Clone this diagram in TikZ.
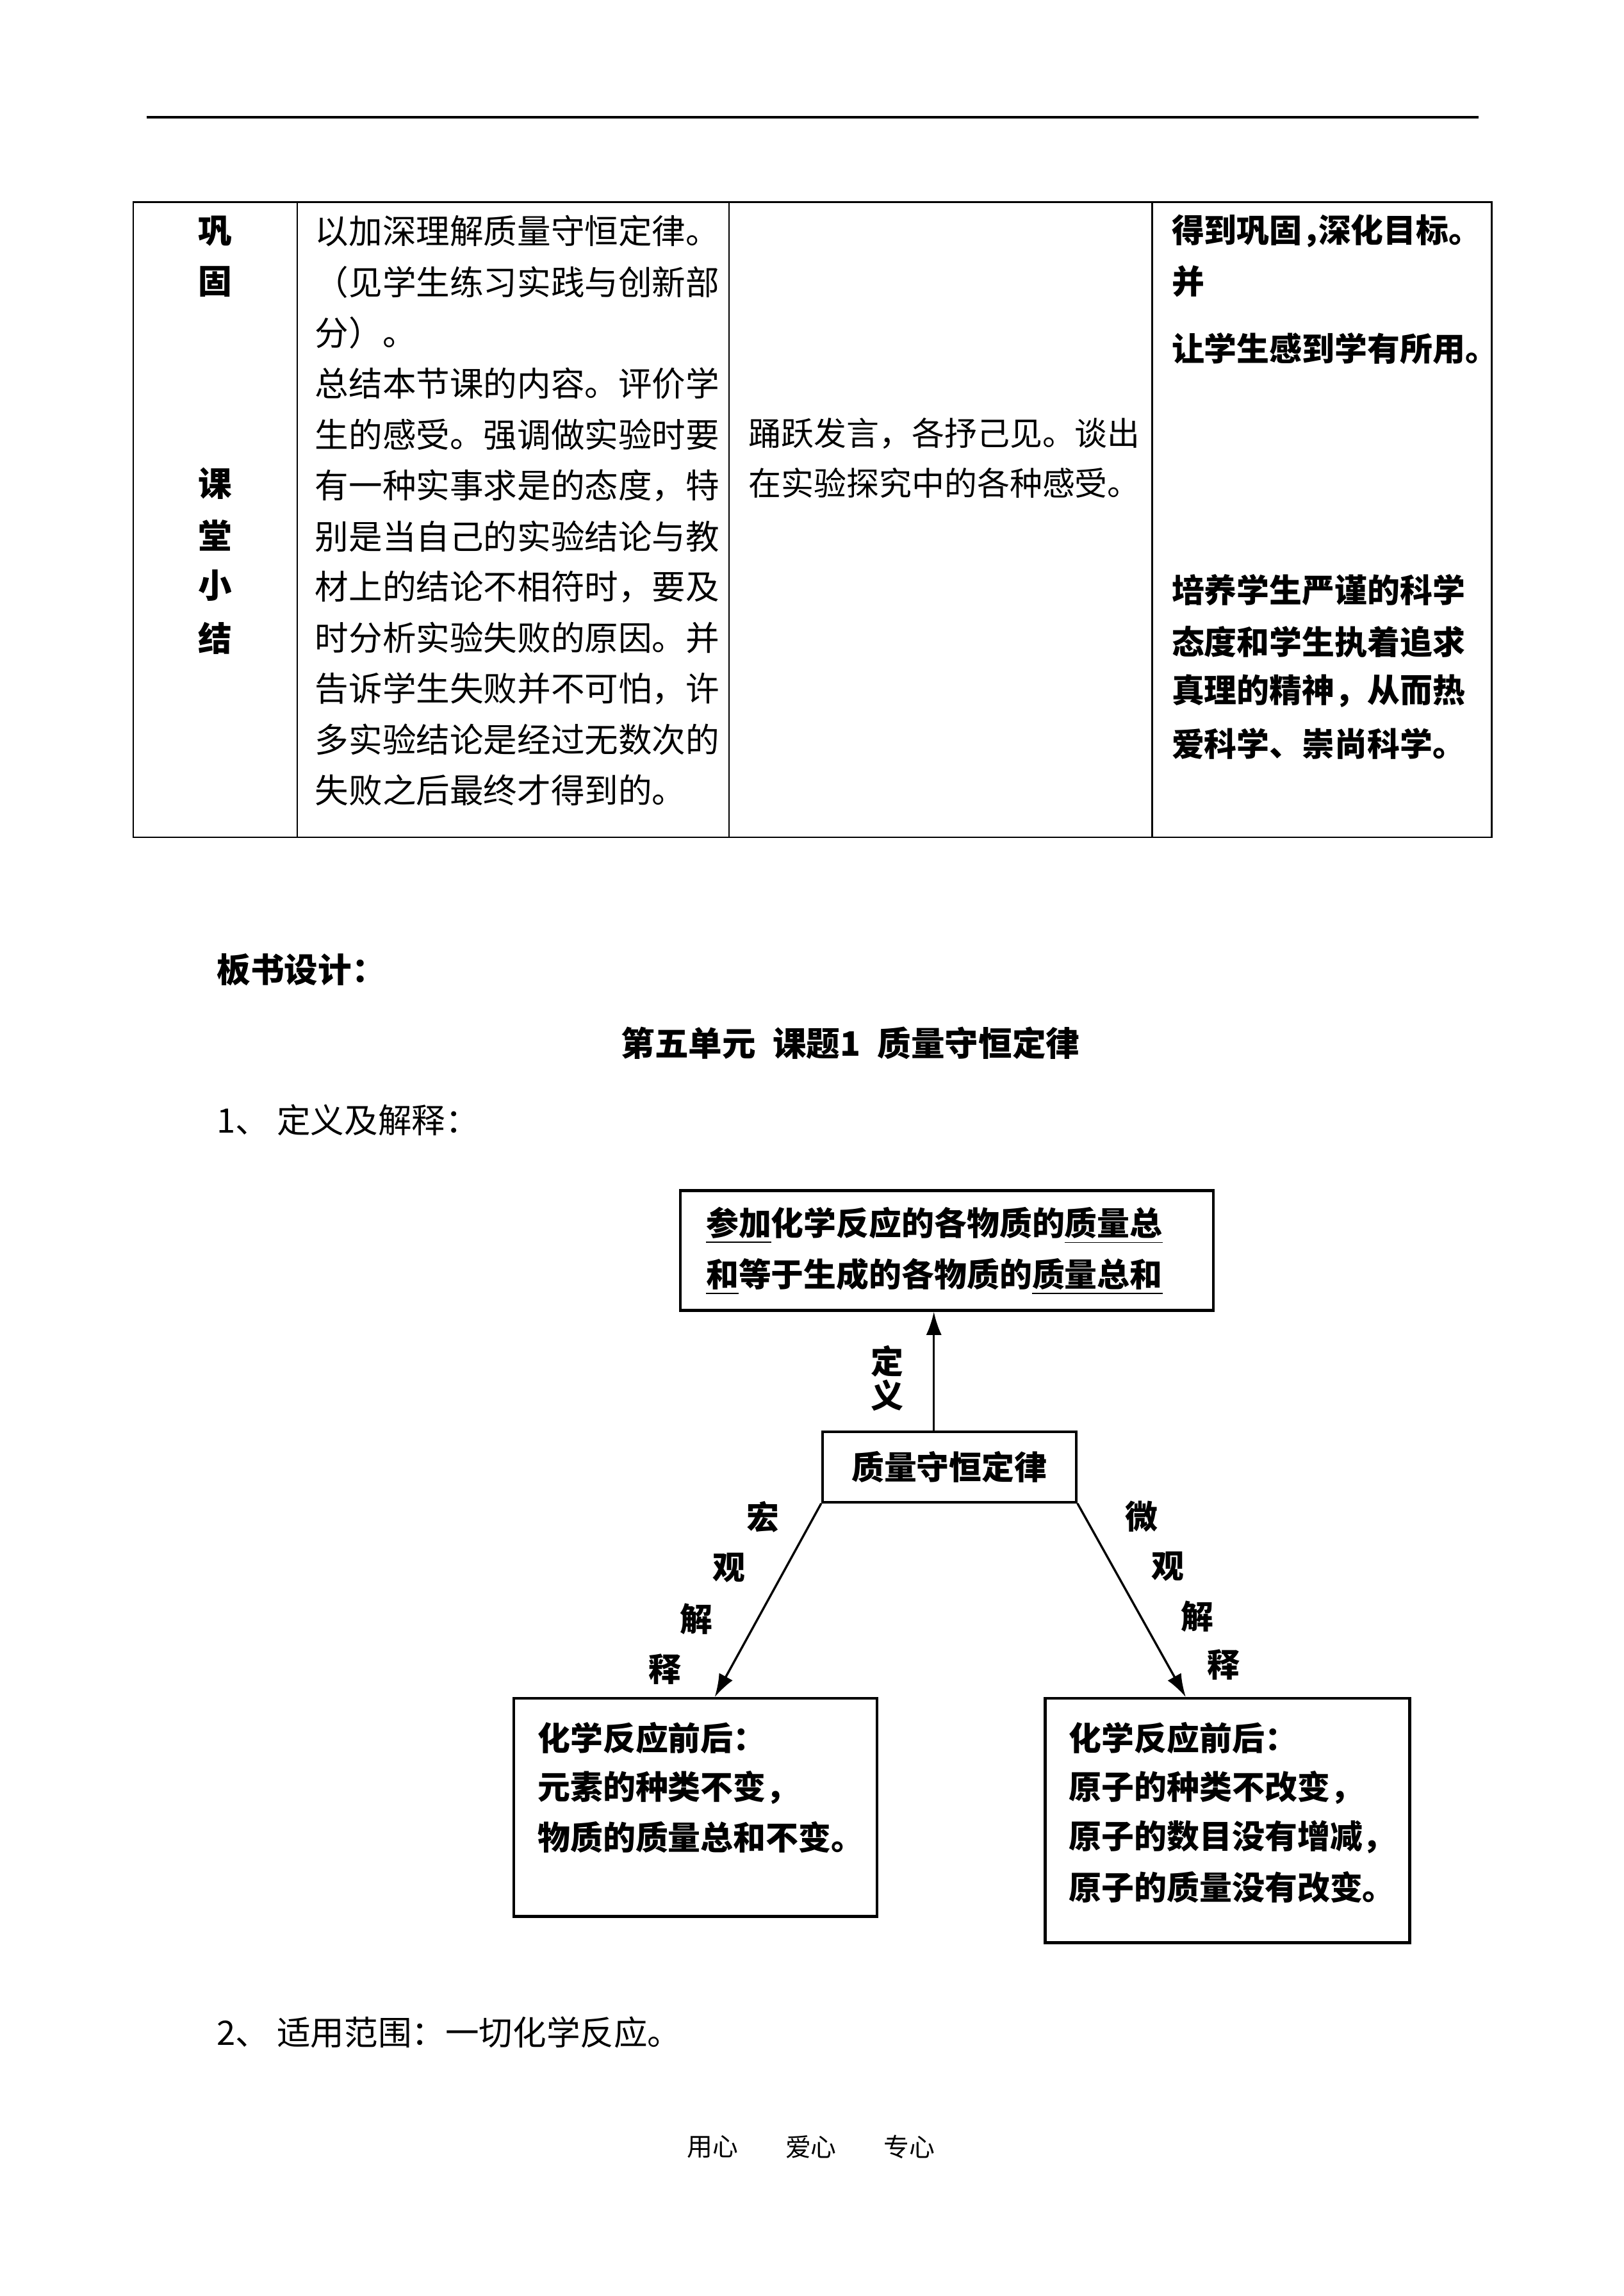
\documentclass[tikz,border=0pt]{standalone}
\usepackage{fontspec}
\setmainfont{Noto Sans CJK SC}
\usetikzlibrary{arrows.meta, positioning, calc}
\definecolor{mydark}{RGB}{0,0,0}
\newcommand{\hcomma}{\makebox[0.5em][l]{，}}
\tikzset{
  txt/.style={anchor=west, inner sep=0pt, font=\fontsize{12.4}{14}\selectfont},
  boldtxt/.style={anchor=west, inner sep=0pt, font=\fontsize{12.4}{14}\selectfont\bfseries},
  aimtxt/.style={anchor=west, inner sep=0pt, font=\fontsize{12}{14}\selectfont\bfseries},
  rowlbl/.style={inner sep=0pt, font=\fontsize{12.4}{14}\selectfont\bfseries},
  gridline/.style={line width=0.6pt, color=mydark},
  mapbox/.style={rectangle, draw=mydark, line width=1pt, inner sep=0pt},
  maptxt/.style={anchor=west, inner sep=0pt, font=\fontsize{12}{14}\selectfont\bfseries},
  sidelbl/.style={inner sep=0pt, font=\fontsize{12}{14}\selectfont\bfseries},
  arrow/.style={-{Latex[length=3mm,width=2mm]}, line width=0.8pt, color=mydark},
  footer/.style={inner sep=0pt, font=\fontsize{9.4}{11}\selectfont}
}

\begin{document}
\begin{tikzpicture}
  \fill[white] (0,0) rectangle (21,-29.7);
  \useasboundingbox (0,0) rectangle (21,-29.7);

  % ── header rule ───────────────────────────────────────────────────────────
  \draw[line width=1pt, color=mydark] (1.894,-1.515) -- (19.125,-1.515);

  % ── table ─────────────────────────────────────────────────────────────────
  \draw[gridline] (1.723,-2.613) rectangle (19.295,-10.831);
  \foreach \xx in {3.844, 9.430, 14.902} {
    \draw[gridline] (\xx,-2.613) -- (\xx,-10.831);
  }

  % row labels
  \foreach \ch/\yy [count=\i] in {巩/-2.99, 固/-3.64, 课/-6.25, 堂/-6.93, 小/-7.57, 结/-8.26} {
    \node[rowlbl] (lbl-\i) at (2.78,\yy) {\ch};
  }

  % teacher column
  \foreach \txt [count=\i] in {以加深理解质量守恒定律。, （见学生练习实践与创新部, 分）。,
      总结本节课的内容。评价学, 生的感受。强调做实验时要, 有一种实事求是的态度，特,
      别是当自己的实验结论与教, 材上的结论不相符时，要及, 时分析实验失败的原因。并,
      告诉学生失败并不可怕，许, 多实验结论是经过无数次的, 失败之后最终才得到的。} {
    \node[txt] (tch-\i) at (4.07,{-2.99-(\i-1)*0.6576}) {\txt};
  }

  % student column
  \node[txt, font=\fontsize{12}{14}\selectfont] (stu-1) at (9.68,-5.605) {踊跃发言，各抒己见。谈出};
  \node[txt, font=\fontsize{12}{14}\selectfont] (stu-2) at (9.68,-6.25) {在实验探究中的各种感受。};

  % aim column
  \foreach \txt/\yy [count=\i] in {得到巩固\hcomma 深化目标。/-2.99, 并/-3.64, 让学生感到学有所用。/-4.51,
      培养学生严谨的科学/-7.63, 态度和学生执着追求/-8.30, 真理的精神，从而热/-8.94,
      爱科学、崇尚科学。/-9.62} {
    \node[aimtxt] (aim-\i) at (15.15,\yy) {\txt};
  }

  % ── board design ──────────────────────────────────────────────────────────
  \node[boldtxt] (board) at (2.80,-12.54) {板书设计：};
  \node[rowlbl] (title) at (11.0,-13.49) {第五单元\enspace 课题1\enspace 质量守恒定律};
  \node[txt] (item1) at (2.80,-14.49) {1、 定义及解释：};

  % boxes
  \node[mapbox, minimum width=6.893cm, minimum height=1.55cm] (defbox) at (12.25,-16.175) {};
  \node[maptxt] (def-1) at ([xshift=0.34cm, yshift=-0.47cm]defbox.north west)
    {\underline{参加}化学反应的各物质的\underline{质量总}};
  \node[maptxt] (def-2) at ([xshift=0.34cm, yshift=-1.13cm]defbox.north west)
    {\underline{和}等于生成的各物质的\underline{质量总和}};

  \node[mapbox, minimum width=3.28cm, minimum height=0.91cm,
        font=\fontsize{12}{14}\selectfont\bfseries] (law) at (12.28,-18.975) {质量守恒定律};

  \node[mapbox, minimum width=4.697cm, minimum height=2.82cm] (macbox) at (8.995,-23.38) {};
  \foreach \txt/\dy [count=\i] in {化学反应前后：/0.53, 元素的种类不变，/1.17, 物质的质量总和不变。/1.81} {
    \node[maptxt] (mac-\i) at ([xshift=0.32cm, yshift=-\dy cm]macbox.north west) {\txt};
  }

  \node[mapbox, minimum width=4.715cm, minimum height=3.16cm] (micbox) at (15.878,-23.55) {};
  \foreach \txt/\dy [count=\i] in {化学反应前后：/0.53, 原子的种类不改变，/1.17,
      原子的数目没有增减，/1.81, 原子的质量没有改变。/2.46} {
    \node[maptxt] (mic-\i) at ([xshift=0.32cm, yshift=-\dy cm]micbox.north west) {\txt};
  }

  % arrows
  \draw[arrow] ([xshift=-0.2cm]law.north) -- ([xshift=-0.2cm]law.north |- defbox.south);
  \draw[arrow] (law.south west) -- ([xshift=0.25cm]macbox.north);
  \draw[arrow] (law.south east) -- ([xshift=-0.54cm]micbox.north);

  % arrow labels
  \node[sidelbl] (defl-1) at (11.48,-17.61) {定};
  \node[sidelbl] (defl-2) at (11.48,-18.05) {义};
  \foreach \ch/\xx/\yy [count=\i] in {宏/9.866/-19.62, 观/9.43/-20.28, 解/9.01/-20.94, 释/8.60/-21.59} {
    \node[sidelbl] (macl-\i) at (\xx,\yy) {\ch};
  }
  \foreach \ch/\xx/\yy [count=\i] in {微/14.77/-19.62, 观/15.11/-20.26, 解/15.49/-20.91, 释/15.83/-21.53} {
    \node[sidelbl] (micl-\i) at (\xx,\yy) {\ch};
  }

  \node[txt] (item2) at (2.80,-26.29) {2、 适用范围：一切化学反应。};

  % ── footer ────────────────────────────────────────────────────────────────
  \node[footer] (ft-1) at (9.22,-27.77) {用心};
  \node[footer] (ft-2) at (10.49,-27.77) {爱心};
  \node[footer] (ft-3) at (11.76,-27.77) {专心};
\end{tikzpicture}
\end{document}
